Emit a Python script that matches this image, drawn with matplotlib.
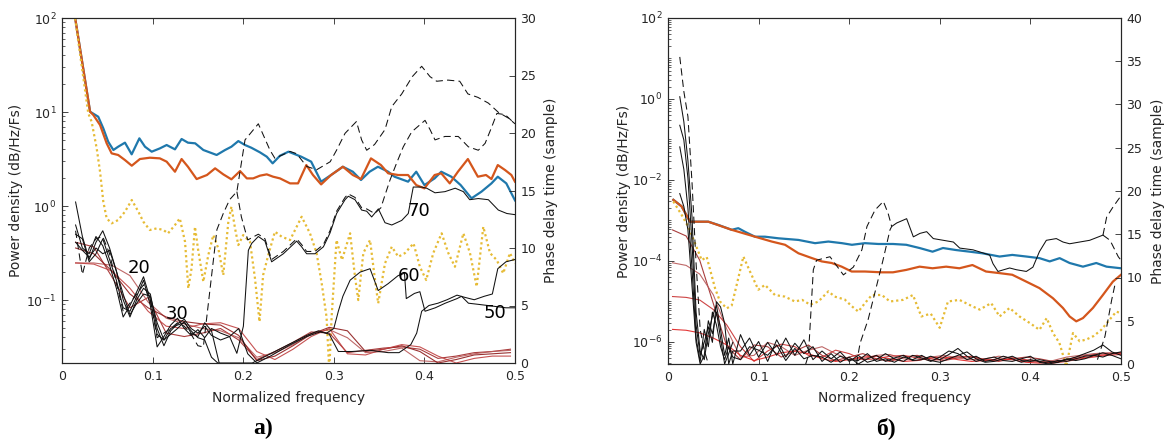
import numpy as np
import matplotlib
matplotlib.use("Agg")
import matplotlib.pyplot as plt
from matplotlib.ticker import (LogLocator, FixedLocator, LogFormatterSciNotation,
                               NullFormatter, MultipleLocator)

# ------------------------------------------------------------------
# Panel a) : power spectral densities (values given as log10 of density)
# ------------------------------------------------------------------
a_blue_f = [0.0137, 0.031, 0.0346, 0.040, 0.0456, 0.051, 0.0567, 0.062, 0.0695, 0.0769,
            0.0854, 0.0916, 0.099, 0.108, 0.1155, 0.1247, 0.132, 0.139, 0.147, 0.156,
            0.1707, 0.18, 0.187, 0.1946, 0.202, 0.209, 0.2185, 0.226, 0.2325, 0.2406,
            0.25, 0.264, 0.275, 0.286, 0.297, 0.310, 0.321, 0.330, 0.3395, 0.3487,
            0.36, 0.367, 0.382, 0.391, 0.4, 0.4113, 0.4186, 0.4297, 0.44, 0.452,
            0.463, 0.474, 0.481, 0.4904, 0.5]
a_blue_log = [2.05, 1.003, 0.982, 0.95, 0.826, 0.684, 0.596, 0.631, 0.674, 0.55,
              0.72, 0.631, 0.578, 0.613, 0.649, 0.603, 0.713, 0.674, 0.667, 0.596,
              0.543, 0.596, 0.631, 0.691, 0.649, 0.62, 0.571, 0.525, 0.454, 0.535,
              0.578, 0.525, 0.472, 0.259, 0.33, 0.418, 0.365, 0.277, 0.365, 0.418,
              0.365, 0.312, 0.259, 0.365, 0.223, 0.294, 0.365, 0.312, 0.223, 0.082,
              0.153, 0.241, 0.312, 0.241, 0.06]

a_orange_f = [0.0137, 0.031, 0.0346, 0.042, 0.0493, 0.0548, 0.062, 0.0695, 0.077, 0.086,
              0.097, 0.108, 0.1155, 0.1247, 0.132, 0.139, 0.1486, 0.16, 0.169, 0.178,
              0.187, 0.1965, 0.204, 0.211, 0.2185, 0.226, 0.233, 0.2406, 0.2517, 0.2605,
              0.2697, 0.277, 0.286, 0.297, 0.310, 0.321, 0.330, 0.341, 0.352, 0.36,
              0.371, 0.382, 0.391, 0.40, 0.4113, 0.4186, 0.428, 0.437, 0.448, 0.459,
              0.468, 0.474, 0.481, 0.489, 0.496, 0.5]
a_orange_log = [2.05, 1.003, 0.968, 0.862, 0.667, 0.56, 0.543, 0.489, 0.429, 0.5,
                0.514, 0.507, 0.472, 0.365, 0.5, 0.418, 0.287, 0.33, 0.401, 0.337,
                0.284, 0.372, 0.294, 0.294, 0.323, 0.337, 0.312, 0.294, 0.241, 0.241,
                0.436, 0.33, 0.23, 0.33, 0.418, 0.33, 0.287, 0.507, 0.436, 0.348,
                0.33, 0.33, 0.223, 0.188, 0.33, 0.348, 0.241, 0.365, 0.5, 0.312,
                0.33, 0.287, 0.436, 0.383, 0.33, 0.259]

a_yellow_f = [0.0137, 0.029, 0.0327, 0.0383, 0.042, 0.0456, 0.0493, 0.0548, 0.062, 0.0695,
              0.077, 0.0843, 0.0898, 0.097, 0.1045, 0.112, 0.117, 0.1247, 0.130, 0.1358,
              0.1394, 0.143, 0.1468, 0.150, 0.156, 0.1615, 0.167, 0.1725, 0.178, 0.1836,
              0.187, 0.191, 0.1946, 0.200, 0.2075, 0.213, 0.218, 0.222, 0.2277, 0.235,
              0.2425, 0.2517, 0.2645, 0.2737, 0.281, 0.2866, 0.292, 0.295, 0.2976, 0.303,
              0.309, 0.318, 0.3234, 0.327, 0.3326, 0.34, 0.3455, 0.349, 0.3565, 0.364,
              0.3712, 0.3786, 0.388, 0.395, 0.402, 0.4098, 0.419, 0.4264, 0.4337, 0.443,
              0.4503, 0.4577, 0.465, 0.4724, 0.4798, 0.487, 0.4944, 0.5]
a_yellow_log = [2.05, 0.986, 0.897, 0.613, 0.365, 0.046, -0.131, -0.184, -0.149, -0.06,
                0.064, -0.06, -0.167, -0.255, -0.238, -0.255, -0.291, -0.202, -0.131, -0.38,
                -0.876, -0.663, -0.22, -0.45, -0.805, -0.521, -0.309, -0.45, -0.734, -0.167,
                -0.007, -0.238, -0.415, -0.309, -0.38, -0.77, -1.23, -0.734, -0.521, -0.273,
                -0.326, -0.362, -0.114, -0.29, -0.5, -0.82, -1.18, -1.75, -1.18, -0.362,
                -0.574, -0.29, -0.752, -1.0, -0.5, -0.362, -0.787, -1.035, -0.61, -0.433,
                -0.54, -0.5, -0.397, -0.646, -0.787, -0.5, -0.29, -0.5, -0.646, -0.29,
                -0.5, -0.858, -0.22, -0.5, -0.574, -0.716, -0.5, -0.61]

# Panel a) : phase delay (samples)
a_clu_f = [0.015, 0.0225, 0.03, 0.0375, 0.045, 0.0525, 0.06, 0.0675, 0.075, 0.0825,
           0.09, 0.0975, 0.105, 0.1125, 0.12, 0.1275, 0.135, 0.1425, 0.15, 0.1575]

a_d1_f = [0.015, 0.0225, 0.03, 0.0375, 0.045, 0.0525, 0.06, 0.0675, 0.075, 0.0825,
          0.09, 0.0975, 0.105, 0.1125, 0.12, 0.1275, 0.135, 0.1425, 0.15, 0.156,
          0.171, 0.178, 0.185, 0.193, 0.202, 0.2167, 0.2296, 0.235, 0.2517, 0.259,
          0.27, 0.281, 0.296, 0.303, 0.3124, 0.325, 0.3307, 0.3363, 0.345, 0.3565,
          0.364, 0.375, 0.3866, 0.397, 0.4062, 0.4136, 0.426, 0.439, 0.448, 0.459,
          0.4706, 0.4816, 0.4926, 0.5]
a_d1_v = [11.5, 7.7, 10.0, 10.8, 11.0, 9.5, 7.0, 4.5, 5.2, 6.0,
          6.8, 5.5, 2.2, 2.6, 3.0, 3.5, 3.2, 2.5, 1.5, 1.4,
          11.6, 13.0, 14.2, 14.9, 19.4, 20.8, 18.5, 17.8, 18.4, 18.2,
          17.1, 16.8, 17.5, 18.5, 19.97, 21.0, 19.4, 18.5, 19.0, 20.3,
          22.3, 23.4, 24.9, 25.8, 24.9, 24.5, 24.6, 24.5, 23.4, 23.1,
          22.6, 21.8, 21.3, 20.8]

a_d2_f = [0.193, 0.198, 0.205, 0.2167, 0.224, 0.2314, 0.2443, 0.259, 0.2645, 0.27,
          0.2792, 0.2885, 0.2958, 0.3031, 0.3124, 0.316, 0.3234, 0.3307, 0.3363, 0.345,
          0.352, 0.3565, 0.362, 0.3694, 0.3767, 0.386, 0.4007, 0.4062, 0.4117, 0.4227,
          0.4374, 0.4485, 0.4595, 0.467, 0.4742, 0.48, 0.489, 0.5]
a_d2_v = [14.9, 12.7, 10.7, 11.2, 10.8, 9.0, 9.7, 10.8, 10.3, 9.7,
          9.7, 10.3, 11.5, 13.2, 14.4, 14.7, 14.4, 13.5, 13.4, 13.0,
          13.5, 14.6, 15.9, 17.4, 18.8, 20.1, 21.1, 20.3, 19.4, 19.7,
          19.7, 18.8, 18.5, 19.1, 20.5, 21.7, 21.6, 20.8]

a_o70_f = a_clu_f + [0.165, 0.175, 0.185, 0.193, 0.2002, 0.2057, 0.2094, 0.2167, 0.224, 0.2314,
                     0.2443, 0.259, 0.2645, 0.27, 0.2792, 0.2885, 0.2958, 0.3031, 0.3124, 0.316,
                     0.3234, 0.3307, 0.3363, 0.3418, 0.3492, 0.3565, 0.364, 0.375, 0.3822, 0.3877,
                     0.397, 0.4025, 0.4117, 0.4227, 0.434, 0.443, 0.45, 0.4595, 0.4706, 0.4816,
                     0.491, 0.5]
a_o70_v = [14.0, 11.0, 9.0, 10.5, 11.5, 10.0, 8.0, 5.5, 4.0, 5.5,
           6.5, 6.0, 3.0, 1.5, 2.8, 3.4, 3.8, 3.0, 2.6, 3.2,
           2.4, 2.0, 2.3, 0.84, 3.2, 9.8, 10.4, 11.0, 10.6, 8.8,
           9.5, 10.6, 10.1, 9.5, 9.5, 10.1, 11.3, 13.0, 14.2, 14.5,
           14.2, 13.3, 13.2, 12.7, 13.4, 12.2, 12.0, 12.4, 13.0, 15.3,
           15.3, 15.2, 14.8, 14.9, 15.2, 14.9, 14.2, 14.3, 14.2, 13.3,
           13.0, 12.9]

a_o60_f = a_clu_f + [0.165, 0.175, 0.185, 0.195, 0.205, 0.215, 0.23, 0.25, 0.27, 0.285,
                     0.292, 0.3, 0.305, 0.31, 0.318, 0.329, 0.34, 0.349, 0.36, 0.371,
                     0.378, 0.38, 0.389, 0.395, 0.4007, 0.412, 0.423, 0.436, 0.441, 0.4486,
                     0.4595, 0.47, 0.48, 0.49, 0.5]
a_o60_v = [11.2, 10.8, 8.8, 9.5, 10.8, 9.0, 7.2, 4.8, 4.5, 5.8,
           7.2, 5.0, 1.4, 2.3, 3.3, 3.9, 3.0, 2.4, 2.9, 2.2,
           3.0, 2.6, 2.3, 3.0, 0.8, 0.0, 0.6, 1.5, 2.3, 2.7,
           2.6, 3.0, 4.5, 5.8, 7.2, 7.9, 8.2, 6.3, 6.9, 7.6,
           7.8, 5.6, 6.05, 6.2, 4.5, 4.8, 5.2, 5.6, 5.8, 5.2,
           5.1, 5.0, 4.9, 4.8, 4.8]

a_o50_f = a_clu_f + [0.165, 0.172, 0.21, 0.23, 0.25, 0.27, 0.283, 0.295, 0.305, 0.32,
                     0.34, 0.36, 0.372, 0.385, 0.3915, 0.397, 0.405, 0.415, 0.425, 0.436,
                     0.445, 0.455, 0.466, 0.475, 0.481, 0.49, 0.5]
a_o50_v = [12.0, 10.0, 9.5, 11.0, 10.2, 8.5, 6.5, 4.0, 5.0, 6.2,
           7.5, 5.5, 2.5, 2.0, 3.0, 3.3, 3.5, 2.8, 2.2, 2.0,
           0.5, 0.0, 0.0, 0.8, 1.6, 2.4, 2.8, 2.5, 1.0, 1.0,
           1.1, 0.9, 0.9, 1.6, 2.6, 4.5, 5.0, 5.2, 5.5, 5.9,
           5.7, 5.5, 5.8, 6.0, 8.2, 8.8, 9.0]

a_o40_f = a_clu_f + [0.165, 0.175]
a_o40_v = [10.5, 9.8, 9.2, 10.0, 9.5, 9.8, 8.0, 6.0, 4.2, 5.2,
           6.0, 5.8, 3.5, 2.0, 2.5, 3.0, 3.6, 2.6, 2.3, 3.5,
           2.8, -0.5]

a_red_f = [0.015, 0.035, 0.055, 0.075, 0.095, 0.115, 0.135, 0.155, 0.175, 0.195,
           0.215, 0.235, 0.255, 0.275, 0.295, 0.315, 0.335, 0.355, 0.375, 0.395,
           0.415, 0.435, 0.455, 0.475, 0.495]
a_red_v = [
    [10.5, 10.1, 7.5, 4.8, 5.7, 2.6, 2.3, 2.6, 3.0, 2.0, 0.3, 1.0, 1.8, 2.7, 2.6,
     0.9, 1.1, 1.3, 1.4, 1.2, 0.4, 0.6, 0.9, 1.0, 1.2],
    [8.7, 8.7, 8.5, 7.6, 5.3, 3.9, 3.4, 3.0, 2.8, 2.2, 0.5, 0.9, 1.6, 2.6, 2.9,
     2.2, 0.9, 1.0, 1.3, 0.2, 0.1, 0.5, 0.8, 1.0, 1.1],
    [10.0, 9.5, 8.0, 6.0, 4.8, 4.0, 3.6, 3.4, 3.3, 2.4, 0.2, 0.6, 1.5, 2.5, 3.1,
     2.8, 1.0, 1.2, 1.5, 1.0, 0.0, 0.3, 0.7, 0.8, 0.9],
    [8.7, 8.6, 8.0, 6.5, 4.5, 3.2, 3.0, 3.4, 3.5, 3.0, 1.0, 0.3, 1.2, 2.3, 3.0,
     0.8, 0.7, 1.2, 1.6, 1.4, 0.6, 0.0, 0.4, 0.6, 0.6],
]
a_red_colors = ['#a02828', '#b85858', '#8e1c1c', '#c04040']

a_order_labels = ['20', '30', '70', '60', '50']
a_order_f = [0.085, 0.127, 0.394, 0.383, 0.478]
a_order_v = [8.3, 4.3, 13.2, 7.6, 4.35]

# ------------------------------------------------------------------
# Panel б) : power spectral densities (log10)
# ------------------------------------------------------------------
b_blue_f = [0.0059, 0.015, 0.0243, 0.0445, 0.0556, 0.0703, 0.0776, 0.085, 0.096, 0.107,
            0.122, 0.144, 0.1623, 0.177, 0.192, 0.203, 0.2174, 0.2321, 0.2483, 0.263,
            0.2777, 0.292, 0.3035, 0.318, 0.333, 0.347, 0.366, 0.38, 0.3955, 0.41,
            0.4213, 0.4323, 0.4433, 0.458, 0.4727, 0.484, 0.5]
b_blue_log = [-2.49, -2.65, -3.03, -3.03, -3.11, -3.23, -3.19, -3.28, -3.4, -3.4,
              -3.44, -3.48, -3.56, -3.52, -3.56, -3.6, -3.56, -3.58, -3.58, -3.6,
              -3.68, -3.77, -3.68, -3.73, -3.77, -3.81, -3.89, -3.85, -3.89, -3.93,
              -4.01, -3.93, -4.05, -4.14, -4.05, -4.14, -4.18]

b_orange_f = [0.0059, 0.015, 0.0243, 0.0445, 0.0703, 0.096, 0.1145, 0.1292, 0.144, 0.159,
              0.1696, 0.1807, 0.1917, 0.2027, 0.2174, 0.236, 0.2483, 0.263, 0.2777, 0.292,
              0.307, 0.3216, 0.336, 0.351, 0.366, 0.38, 0.3955, 0.41, 0.4249, 0.4359,
              0.4433, 0.4506, 0.458, 0.469, 0.48, 0.491, 0.5]
b_orange_log = [-2.49, -2.65, -3.03, -3.03, -3.23, -3.4, -3.52, -3.6, -3.81, -3.93,
                -4.01, -4.05, -4.14, -4.26, -4.26, -4.28, -4.28, -4.22, -4.14, -4.18,
                -4.14, -4.18, -4.1, -4.26, -4.3, -4.34, -4.51, -4.67, -4.92, -5.16,
                -5.37, -5.49, -5.41, -5.16, -4.84, -4.51, -4.34]

b_yellow_f = [0.0059, 0.015, 0.0232, 0.0372, 0.0427, 0.0519, 0.0574, 0.0648, 0.0703, 0.0758,
              0.0832, 0.0905, 0.0997, 0.107, 0.118, 0.129, 0.14, 0.148, 0.157, 0.166,
              0.177, 0.184, 0.195, 0.203, 0.2101, 0.2174, 0.225, 0.236, 0.245, 0.2594,
              0.2704, 0.2796, 0.29, 0.2999, 0.309, 0.3216, 0.336, 0.344, 0.3567, 0.366,
              0.377, 0.388, 0.3992, 0.41, 0.418, 0.4249, 0.432, 0.4396, 0.447, 0.4543,
              0.4617, 0.47, 0.4782, 0.4874, 0.4948, 0.5]
b_yellow_log = [-2.53, -2.86, -3.19, -3.98, -3.9, -4.67, -5.0, -5.17, -5.1, -4.59,
                -3.89, -4.26, -4.71, -4.59, -4.84, -4.88, -5.0, -4.96, -5.08, -5.0,
                -4.75, -4.88, -4.95, -5.12, -5.25, -5.04, -4.84, -4.84, -5.0, -4.96,
                -4.84, -5.37, -5.3, -5.65, -5.0, -4.96, -5.12, -5.2, -5.04, -5.37,
                -5.16, -5.37, -5.53, -5.7, -5.41, -5.78, -6.02, -6.6, -5.78, -5.98,
                -5.94, -5.85, -5.7, -5.45, -5.25, -5.29]

# Panel б) : phase delay (samples)
b_clu_f = [0.013, 0.0175, 0.022, 0.0265, 0.031, 0.0355, 0.04, 0.0445, 0.049, 0.0535,
           0.058, 0.0625, 0.067, 0.0715]
b_tan_f = [0.08, 0.09, 0.10, 0.11, 0.12, 0.13, 0.14, 0.15, 0.16, 0.17,
           0.18, 0.19, 0.20, 0.21, 0.22, 0.23, 0.24, 0.25, 0.26, 0.27,
           0.28, 0.29, 0.30, 0.31, 0.32, 0.33, 0.34, 0.35, 0.36, 0.37,
           0.38, 0.39, 0.40, 0.41, 0.42, 0.43, 0.44, 0.45, 0.46, 0.47,
           0.48, 0.49, 0.50]
b_blk_v = [
    [30.9, 28.0, 23.5, 17.0, 6.0, 1.5, 0.5, 3.5, 5.5, 6.8, 4.0, 1.0, 3.0, 0.0,
     3.4, 1.0, 2.6, 0.3, 2.8, 0.8, 2.4, 1.2, 2.0, 0.3, 1.2, 0.2, 0.8, 0.0, 0.6,
     1.0, 0.3, 0.7, 1.0, 0.4, 0.5, 0.9, 0.5, 1.1, 1.8, 0.9, 0.3, 0.6, 0.8, 0.4,
     0.3, 0.6, 0.9, 0.2, 0.0, 0.2, 0.5, 0.8, 1.2, 1.6, 2.2, 1.4, 1.0],
    [27.6, 25.9, 21.5, 14.0, 4.5, 1.0, 2.5, 4.3, 2.5, 7.2, 6.6, 4.7, 0.0, 1.5,
     1.5, 3.0, 0.8, 2.5, 1.0, 3.0, 1.0, 2.8, 0.5, 1.5, 0.6, 1.4, 0.3, 1.0, 0.2,
     0.5, 1.2, 0.6, 0.3, 1.0, 0.7, 0.3, 0.8, 1.5, 1.2, 0.5, 0.9, 0.3, 0.5, 0.9,
     0.6, 0.2, 0.5, 0.3, 0.1, 0.4, 0.3, 0.6, 0.9, 1.0, 1.3, 1.0, 0.6],
    [25.1, 22.5, 18.0, 11.0, 3.0, 0.3, 4.0, 2.0, 6.0, 4.5, 2.0, 0.5, 2.0, 0.8,
     0.5, 2.0, 1.6, 1.0, 2.2, 0.4, 1.8, 0.6, 1.0, 0.8, 0.2, 0.9, 0.5, 0.4, 1.2,
     0.3, 0.6, 0.2, 0.8, 0.5, 1.0, 0.4, 0.2, 0.6, 1.0, 1.4, 0.6, 0.2, 0.3, 0.6,
     0.9, 0.4, 0.3, 0.5, 0.3, 0.2, 0.6, 0.4, 0.6, 1.0, 0.8, 1.2, 1.4],
]
b_blk4_v = [19.7, 18.2, 15.5, 9.0, 2.5, 0.0, 1.0, 5.0, 3.5, 6.0, 3.0, 0.0, 1.2, 2.5]
b_dsh0_f = [0.013, 0.0175, 0.022, 0.0265, 0.031, 0.0355, 0.04, 0.0445]
b_dsh0_v = [35.5, 31.5, 28.6, 21.0, 11.6, 4.0, 1.6, 0.0]

b_dp1_f = [0.152, 0.155, 0.1604, 0.164, 0.1788, 0.1936, 0.2046, 0.214, 0.2196, 0.2285,
           0.2377, 0.243, 0.2469]
b_dp1_v = [0.0, 1.0, 10.9, 12.0, 12.4, 10.3, 11.2, 13.2, 15.9, 17.8, 18.8, 17.4, 15.9]
b_dp2_f = [0.208, 0.212, 0.2208, 0.228, 0.2373, 0.245, 0.2469]
b_dp2_v = [0.0, 2.4, 5.1, 8.1, 12.0, 15.5, 15.9]
b_sp_f = [0.2469, 0.2524, 0.2634, 0.2708, 0.2781, 0.2855, 0.2928, 0.3039, 0.315, 0.322,
          0.3366, 0.355, 0.3587, 0.3642, 0.3771, 0.3845, 0.3955, 0.4028, 0.41, 0.4176,
          0.4286, 0.436, 0.4433, 0.4543, 0.4654, 0.4801]
b_sp_v = [15.9, 16.3, 16.8, 14.7, 15.1, 15.3, 14.5, 14.3, 14.1, 13.4,
          13.2, 12.6, 11.6, 10.7, 11.1, 10.9, 10.7, 11.2, 13.0, 14.3,
          14.5, 14.1, 13.9, 14.1, 14.3, 14.9]
b_dp3_f = [0.4801, 0.4842, 0.4915, 0.499]
b_dp3_v = [14.9, 17.0, 18.2, 19.3]
b_dp4_f = [0.4801, 0.4879, 0.497, 0.5]
b_dp4_v = [14.9, 14.3, 12.4, 12.0]
b_dp5_f = [0.474, 0.4823, 0.4897, 0.494]
b_dp5_v = [0.5, 3.2, 7.4, 9.5]

b_red_f = [0.005, 0.02, 0.035, 0.05, 0.065, 0.08, 0.095, 0.11, 0.125, 0.14,
           0.155, 0.17, 0.185, 0.2, 0.215, 0.23, 0.245, 0.26, 0.275, 0.29,
           0.305, 0.32, 0.335, 0.35, 0.365, 0.38, 0.395, 0.41, 0.425, 0.44,
           0.455, 0.47, 0.485, 0.5]
b_red_v = [
    [15.5, 14.8, 12.0, 7.0, 2.0, 0.5, 2.2, 2.0, 0.8, 1.5, 2.2, 1.0, 0.4, 0.8, 1.2,
     0.6, 0.3, 0.8, 1.0, 0.6, 0.4, 0.7, 0.9, 0.5, 0.3, 0.6, 0.8, 0.6, 0.3, 0.5,
     0.9, 1.1, 1.2, 1.2],
    [11.7, 11.4, 10.4, 8.0, 4.0, 0.8, 1.0, 2.5, 2.0, 1.0, 1.6, 2.0, 1.2, 0.5, 0.6,
     1.0, 1.1, 0.6, 0.4, 0.8, 1.0, 0.7, 0.5, 0.6, 0.9, 0.7, 0.4, 0.2, 0.4, 0.8,
     1.0, 1.2, 1.3, 1.3],
    [7.8, 7.7, 7.4, 6.3, 4.5, 2.0, 0.3, 1.5, 2.3, 2.0, 1.0, 0.8, 1.6, 1.2, 0.5,
     0.6, 0.9, 1.0, 0.7, 0.4, 0.6, 0.9, 0.8, 0.5, 0.4, 0.7, 0.5, 0.3, 0.1, 0.3,
     0.6, 0.8, 1.0, 1.1],
    [4.0, 3.9, 3.6, 3.0, 2.2, 1.0, 0.4, 0.8, 1.3, 1.5, 1.2, 0.6, 0.3, 0.5, 0.8,
     0.9, 0.6, 0.3, 0.4, 0.7, 0.8, 0.5, 0.3, 0.4, 0.6, 0.5, 0.2, 0.1, 0.2, 0.5,
     0.7, 0.9, 1.1, 1.3],
]
b_red_colors = ['#a02828', '#b85858', '#c83030', '#e02020']

freq_ticks = [0, 0.1, 0.2, 0.3, 0.4, 0.5]
freq_ticklabels = ['0', '0.1', '0.2', '0.3', '0.4', '0.5']

# ------------------------------------------------------------------
BLUE, ORANGE, YELLOW = '#1f78ac', '#d4561c', '#e6bb35'
AXC = '#262626'
W, H = 1168, 441

plt.rcParams['font.family'] = ['DejaVu Sans']
plt.rcParams['mathtext.default'] = 'regular'

fig = plt.figure(figsize=(W / 100, H / 100), dpi=100)


def make_axes(left_px, top_px, right_px, bottom_px):
    ax = fig.add_axes([left_px / W, 1 - bottom_px / H,
                       (right_px - left_px) / W, (bottom_px - top_px) / H])
    ax.set_yscale('log')
    ax2 = ax.twinx()
    return ax, ax2


def style(ax, ax2, ymax_lin, lx, rx, xl_y):
    ax.set_xlim(0, 0.5)
    ax.xaxis.set_major_locator(FixedLocator(freq_ticks))
    ax.set_xticklabels(freq_ticklabels)
    ax2.set_ylim(0, ymax_lin)
    ax2.yaxis.set_major_locator(MultipleLocator(5))
    for a in (ax, ax2):
        for s in a.spines.values():
            s.set_color(AXC)
            s.set_linewidth(0.8)
    ax.tick_params(axis='x', which='both', direction='in', top=True, bottom=True,
                   length=4, width=0.6, color=AXC, labelcolor=AXC, labelsize=9, pad=5)
    ax.tick_params(axis='y', which='major', direction='in', left=True, right=False,
                   length=4, width=0.6, color=AXC, labelcolor=AXC, labelsize=9, pad=4)
    ax.tick_params(axis='y', which='minor', direction='in', left=True, right=False,
                   length=2, width=0.5, color=AXC)
    ax2.tick_params(axis='y', direction='in', length=4, width=0.6, color=AXC,
                    labelcolor=AXC, labelsize=9, pad=4)
    ax.set_xlabel('Normalized frequency', fontsize=10, color=AXC)
    ax.xaxis.set_label_coords(0.5, xl_y)
    ax.xaxis.label.set_verticalalignment('center')
    ax.set_ylabel('Power density (dB/Hz/Fs)', fontsize=10, color=AXC)
    ax.yaxis.set_label_coords(lx, 0.5)
    ax.yaxis.label.set_verticalalignment('center')
    ax2.set_ylabel('Phase delay time (sample)', fontsize=10, color=AXC, rotation=90)
    ax2.yaxis.set_label_coords(rx, 0.5)
    ax2.yaxis.label.set_verticalalignment('center')


blk = dict(color='#111111', lw=0.75)
dash = (0, (7, 4))

# ------------------------------ panel a) ------------------------------
axA, axA2 = make_axes(62, 18, 515, 363)
axA.plot(a_blue_f, np.power(10.0, a_blue_log), color=BLUE, lw=1.6, zorder=3)
axA.plot(a_orange_f, np.power(10.0, a_orange_log), color=ORANGE, lw=1.6, zorder=3)
axA.plot(a_yellow_f, np.power(10.0, a_yellow_log), color=YELLOW, lw=1.6,
         linestyle=(0, (1, 1.3)), zorder=3)
axA.set_ylim(0.0214, 100)
axA.yaxis.set_major_locator(LogLocator(base=10, numticks=10))
axA.yaxis.set_major_formatter(LogFormatterSciNotation())
axA.yaxis.set_minor_locator(LogLocator(base=10, subs=np.arange(2, 10), numticks=20))
axA.yaxis.set_minor_formatter(NullFormatter())

for vals, col in zip(a_red_v, a_red_colors):
    axA2.plot(a_red_f, vals, color=col, lw=0.8, alpha=0.9)
axA2.plot(a_o70_f, a_o70_v, **blk)
axA2.plot(a_o60_f, a_o60_v, **blk)
axA2.plot(a_o50_f, a_o50_v, **blk)
axA2.plot(a_o40_f, a_o40_v, **blk)
axA2.plot(a_d1_f, a_d1_v, linestyle=dash, **blk)
axA2.plot(a_d2_f, a_d2_v, linestyle=dash, **blk)
for lab, fx, fv in zip(a_order_labels, a_order_f, a_order_v):
    axA2.text(fx, fv, lab, fontsize=13, ha='center', va='center', color='black')
style(axA, axA2, 30, -0.1015, 1.0795, -0.101)

# ------------------------------ panel б) ------------------------------
axB, axB2 = make_axes(668, 18, 1121, 364)
axB.plot(b_blue_f, np.power(10.0, b_blue_log), color=BLUE, lw=1.6, zorder=3)
axB.plot(b_orange_f, np.power(10.0, b_orange_log), color=ORANGE, lw=1.6, zorder=3)
axB.plot(b_yellow_f, np.power(10.0, b_yellow_log), color=YELLOW, lw=1.6,
         linestyle=(0, (1, 1.3)), zorder=3)
axB.set_ylim(2.86e-7, 100)
axB.yaxis.set_major_locator(FixedLocator([1e-6, 1e-4, 1e-2, 1e0, 1e2]))
axB.yaxis.set_major_formatter(LogFormatterSciNotation())
axB.yaxis.set_minor_locator(LogLocator(base=10, subs=np.arange(1, 10), numticks=40))
axB.yaxis.set_minor_formatter(NullFormatter())

for vals, col in zip(b_red_v, b_red_colors):
    axB2.plot(b_red_f, vals, color=col, lw=0.8, alpha=0.9)
b_full_f = b_clu_f + b_tan_f
for vals in b_blk_v:
    axB2.plot(b_full_f, vals, **blk)
axB2.plot(b_clu_f, b_blk4_v, **blk)
axB2.plot(b_dsh0_f, b_dsh0_v, linestyle=dash, **blk)
axB2.plot(b_dp1_f, b_dp1_v, linestyle=dash, **blk)
axB2.plot(b_dp2_f, b_dp2_v, linestyle=dash, **blk)
axB2.plot(b_sp_f, b_sp_v, **blk)
axB2.plot(b_dp3_f, b_dp3_v, linestyle=dash, **blk)
axB2.plot(b_dp4_f, b_dp4_v, linestyle=dash, **blk)
axB2.plot(b_dp5_f, b_dp5_v, linestyle=dash, **blk)
style(axB, axB2, 40, -0.097, 1.0817, -0.098)

# panel captions
cap = dict(fontsize=17, fontweight='bold', family=['Liberation Serif', 'DejaVu Serif'],
           ha='center', va='center', color='black')
fig.text(263 / W, 1 - 428 / H, 'a)', **cap)
fig.text(886 / W, 1 - 428 / H, 'б)', **cap)

fig.savefig('out.png', dpi=100)
